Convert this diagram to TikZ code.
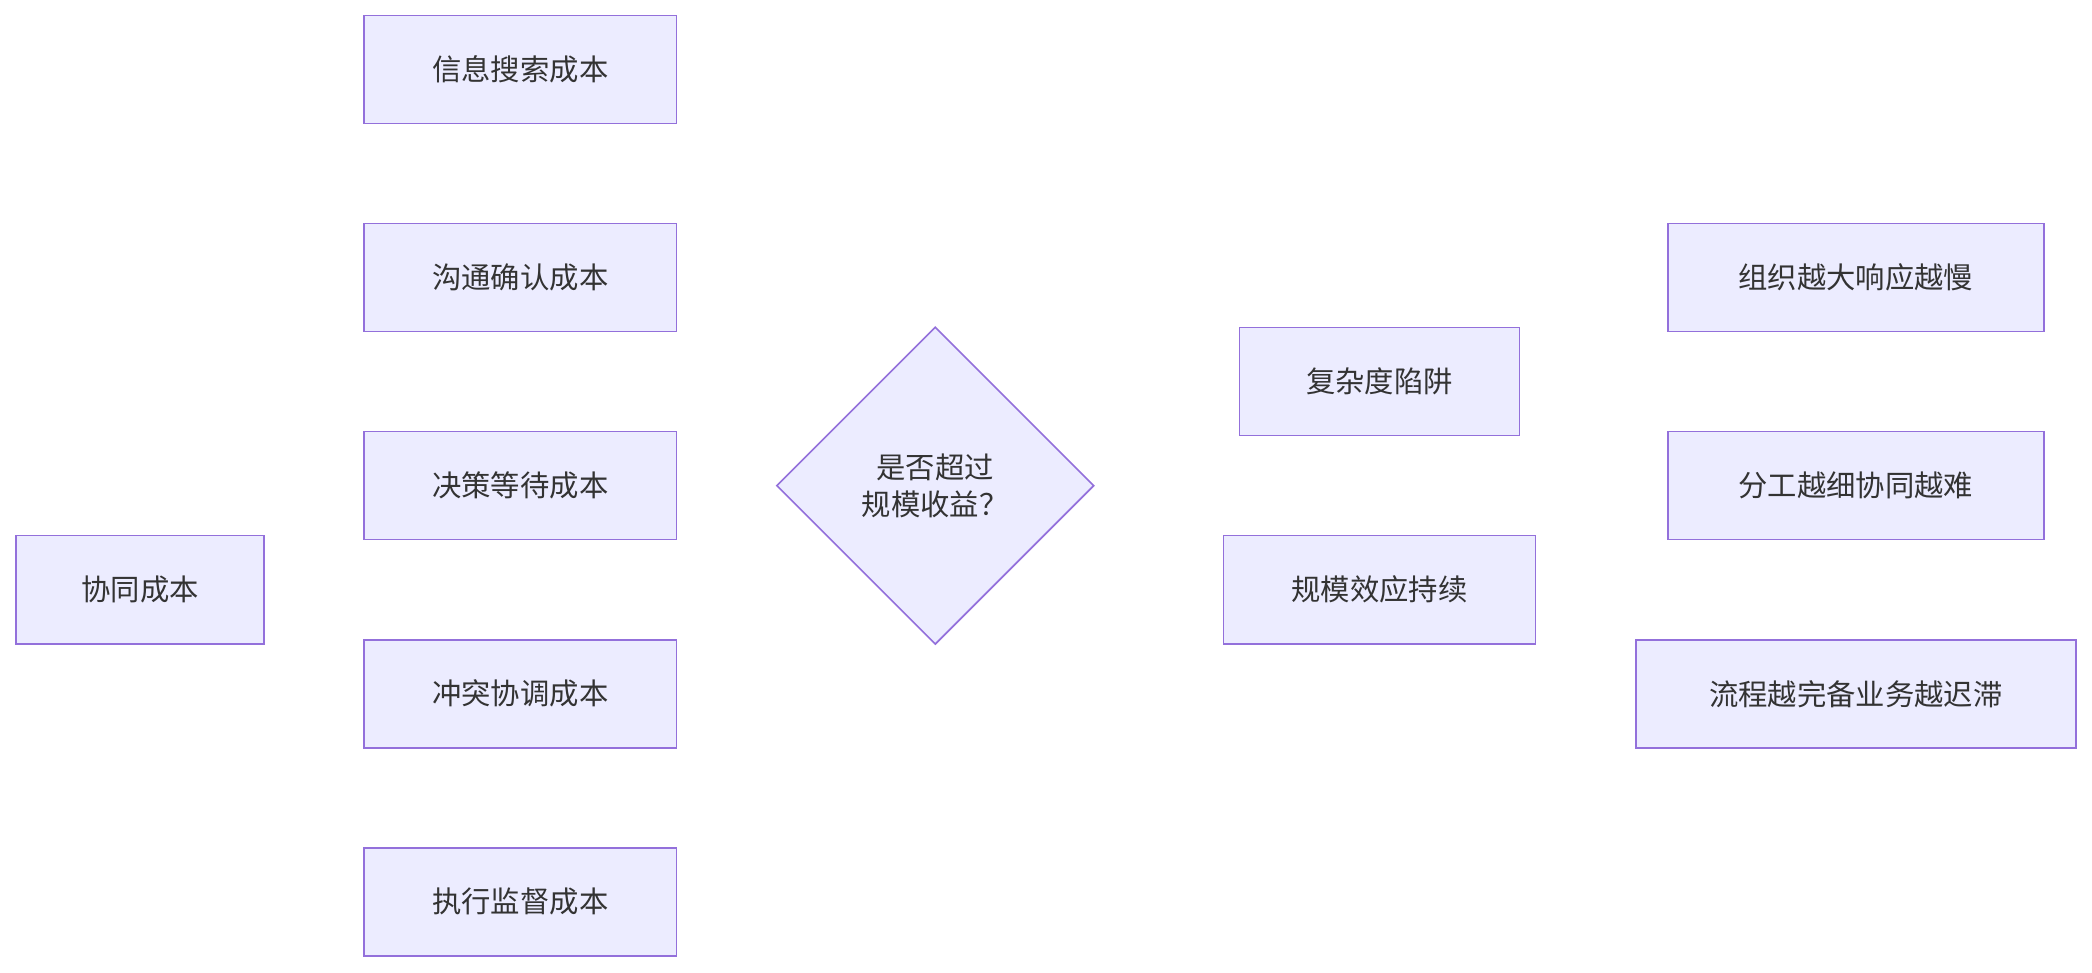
\documentclass[tikz,border=0pt]{standalone}
\usepackage{fontspec}
\setmainfont{Noto Sans CJK SC}
\usetikzlibrary{shapes.geometric,arrows.meta,calc,backgrounds}
\definecolor{boxfill}{HTML}{ECECFF}
\definecolor{boxline}{HTML}{9370DB}
\definecolor{edge}{HTML}{333333}
\definecolor{lblbg}{HTML}{E8E8E8}
\begin{document}
\begin{tikzpicture}[x=0.5pt,y=-0.5pt]
\tikzset{box/.style={draw=boxline,fill=boxfill,line width=0.6pt,minimum height=40.5pt,inner sep=0pt,font=\fontsize{11}{14}\selectfont,text=black!80},
  dec/.style={box,shape=diamond,minimum width=119pt,minimum height=119pt,align=center},
  link/.style={draw=edge,line width=0.7pt,-{Triangle[length=5pt,width=5pt]}},
  lbl/.style={fill=lblbg,inner sep=1.5pt,font=\fontsize{11}{14}\selectfont,text=black!80}}
\useasboundingbox[fill=white] (0,0) rectangle (1568,729);
% nodes
\node[box,minimum width=93pt] (cost) at (105,442) {协同成本};
\node[box,minimum width=117pt] (search) at (390,52) {信息搜索成本};
\node[box,minimum width=117pt] (talk) at (390,208) {沟通确认成本};
\node[box,minimum width=117pt] (wait) at (390,364) {决策等待成本};
\node[box,minimum width=117pt] (clash) at (390,520) {冲突协调成本};
\node[box,minimum width=117pt] (watch) at (390,676) {执行监督成本};
\node[dec] (over) at (701,364) {是否超过\\规模收益？};
\node[box,minimum width=105pt] (trap) at (1034,286) {复杂度陷阱};
\node[box,minimum width=117pt] (scale) at (1034,442) {规模效应持续};
\node[box,minimum width=141pt] (slow) at (1391,208) {组织越大响应越慢};
\node[box,minimum width=141pt] (hard) at (1391,364) {分工越细协同越难};
\node[box,minimum width=165pt] (stuck) at (1391,520) {流程越完备业务越迟滞};
% edges
\begin{pgfonlayer}{background}
\draw[link] ([xshift=6.5pt]cost.north) .. controls +(67,-202) and +(-48,0) .. (search.west);
\draw[link] ([xshift=11.5pt]cost.north) .. controls +(62,-112) and +(-43,0) .. (talk.west);
\draw[link] ([xshift=34pt]cost.north) .. controls +(32,-19) and +(-33,0) .. (wait.west);
\draw[link] ([xshift=34pt]cost.south) .. controls +(32,19) and +(-33,0) .. (clash.west);
\draw[link] ([xshift=11.5pt]cost.south) .. controls +(62,112) and +(-43,0) .. (watch.west);
\draw[link] (search.east) .. controls +(40,0) and +(-60,-120) .. (over.118);
\draw[link] (talk.east) .. controls +(40,0) and +(-50,-50) .. (over.north west);
\draw[link] (wait.east) -- (over.west);
\draw[link] (clash.east) .. controls +(40,0) and +(-50,50) .. (over.south west);
\draw[link] (watch.east) .. controls +(40,0) and +(-60,120) .. (over.-118);
\draw[link] (over.25) .. controls +(40,-20) and +(-50,0) .. node[lbl,pos=0.55] {是} (trap.west);
\draw[link] (over.-25) .. controls +(40,20) and +(-50,0) .. node[lbl,pos=0.55] {否} (scale.west);
\draw[link] ([xshift=40.5pt]trap.north) .. controls +(45,-23) and +(-60,0) .. (slow.west);
\draw[link] ([xshift=40.5pt]trap.south) .. controls +(45,23) and +(-60,0) .. (hard.west);
\draw[link] ([xshift=13.5pt]trap.south) .. controls +(79,118) and +(-46,0) .. (stuck.west);
\end{pgfonlayer}
\end{tikzpicture}
\end{document}
